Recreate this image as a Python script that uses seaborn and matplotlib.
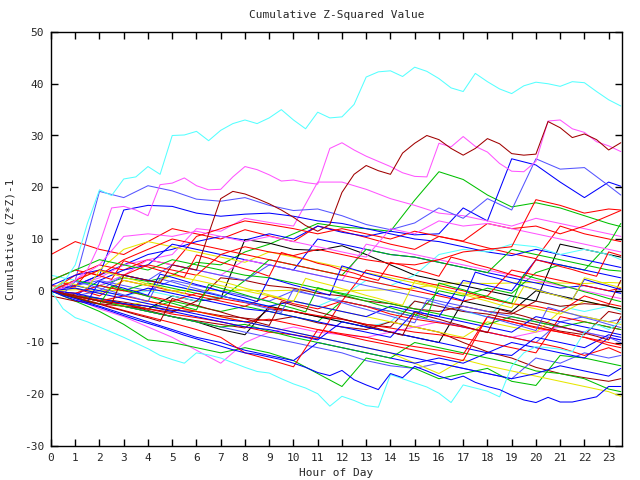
import matplotlib
matplotlib.use("Agg")
import matplotlib.pyplot as plt
import seaborn as sns

# ---------------- data ----------------
HOURS = [0, 1, 2, 3, 4, 5, 6, 7, 8, 9, 10, 11, 12, 13, 14, 15, 16, 17, 18, 19, 20, 21, 22, 23, 23.5]
HALF_HOURS = [0, 0.5, 1, 1.5, 2, 2.5, 3, 3.5, 4, 4.5, 5, 5.5, 6, 6.5, 7, 7.5,
              8, 8.5, 9, 9.5, 10, 10.5, 11, 11.5, 12, 12.5, 13, 13.5, 14, 14.5, 15, 15.5,
              16, 16.5, 17, 17.5, 18, 18.5, 19, 19.5, 20, 20.5, 21, 21.5, 22, 22.5, 23, 23.5]

# tangle series (hourly)
r1 = [7, 9.5, 8, 7, 9.5, 12, 11, 10, 11.8, 10.6, 9.5, 12.5, 11.5, 10.3, 9, 8, 10.5, 9.5, 8.3, 7.2, 6.2, 12.5, 11, 10, 9.5]
r2 = [0, 3, 5, 4, 6, 5, 10.5, 12, 13.5, 12.8, 12, 11, 12, 11, 10, 11.5, 10.5, 9.6, 13, 12, 12.5, 11, 12.5, 14.5, 15.5]
r3 = [1, 0.5, -1, 2, 1, 0, -1, -2, -3, -1, -2.5, -3.5, -2, 4, 3, 2, 1, 0, -1.5, -2.5, -3, -4, -1, -2.5, -3]
r4 = [0, -1, -1.8, -2.6, -3.5, -4.5, -5.2, -6, -7, -8, -8.5, -9.3, -2, -3, -4.5, -5.5, -6.2, -7, -8, -9, -10, -11, -12.5, -11, -12]
r5 = [0, -0.5, 1, 0, -1, -2, -0.5, -1.5, -2.3, -3.2, -4, -4.8, -5.5, -6.5, -7.2, -8, -8.5, -9.2, -10, -11, -12, -5, -6, -7, -7.5]
r6 = [2, 4, 3, 6, 8, 10, 9, 8, 7, 6, 5, 4, 3, 2, 1, 0, -1, -2, -1, 4, 3, 2, 1, 0, 0.5]
r7 = [0, -1, -2, -1, -2, -3, -4, -5, -6, -5.5, -6.5, -7.5, -8.3, -9, -10, -10.8, -11.5, -12.3, -5, -6, -7, -8, -9, -10.5, -11]
r8 = [0, -1.2, -2.5, -3.8, -5, -6.2, -7.5, -9, -12, -13.3, -14.7, -7.5, -8.5, -9.6, -10.5, -11.5, -12.5, -13.5, -5, -6, -7.2, -8, -9, -10, -10.5]
r9 = [0, 2, 4, 3, 5, 4, 3, 7, 8.5, 7.5, 6.8, 8, 7, 6, 5.3, 5, 6, 7.5, 8, 8.5, 17.6, 16.5, 15, 15.8, 15.6]
dr2 = [0, -0.8, -1.5, -2.2, -3, -3.8, -4, -4.8, -5.3, -5.8, -5, -6.2, -7, -7.5, -6, -7, -8, -10, -11.8, -13, -14.8, -16, -16.8, -17.5, -17]
dr3 = [0, -1, -2, -2.6, -3.8, -5, -5.8, -6.5, -7.2, -3.5, -4, -5, -5.5, -6.5, -7, -2, -3, -4, -4.5, -5.5, -6.5, -7.8, -8.5, -4, -4.5]
dr4 = [-1, -2, -2.5, -3, -3.5, -4.2, -2, 2.5, 2, 1, 0.5, -0.5, -1, -2, -2.5, -3.5, -4, -3, -4, -4.5, -2, -3, -2.5, -2.8, 2]
g1 = [0, -0.5, 1, 2.5, 1.8, 3, 5.5, 5, 7.5, 9, 11, 13, 12.3, 12, 11.5, 17.5, 23, 21.5, 18.5, 16.2, 17, 16, 14.5, 13, 12.4]
g2 = [0, -1, -1.5, -2.5, -3.5, -2, -3, -4, -3, -4, -5, -6, -2, -3, -4, -5, 0, -1, 0.5, -0.5, 3.5, 5, 4, 9, 13]
g3 = [0, -2, -4, -6.5, -9.5, -10, -11, -12, -11, -12, -13.5, -16, -18.5, -13, -14, -15, -17, -16, -15, -17.5, -18.3, -12.5, -13, -14, -14.5]
g4 = [0, 2, 1, 0, 1.5, 0.5, -0.5, -1.5, 2, 6, 5, 4, 3, 8, 7, 6.5, 5.5, 4.5, 3.5, 8, 7, 6, 5, 4, 3.8]
g5 = [0, -1, -2, -3, -4, -5, -6, -7, -6.5, -7.8, -9, -10, -11, -12, -13, -10, -11, -12, -13, -14, -15.5, -16, -17, -19, -19.5]
g6 = [2, 4, 6, 5, 4, 6, 5, 4, 3, 2.5, 1.5, 0.5, -0.5, -1.5, -2.5, -3.5, -4.5, -5.5, -6.5, -5, -6, -7, -6, -7, -7.5]
b1 = [0, 1, 3, 5, 7, 8, 9.5, 10.5, 9.8, 11, 10, 12.5, 11.3, 10.5, 11.5, 10.8, 11, 16, 13.5, 25.5, 24.3, 21, 18, 21, 20.2]
b2 = [0, 1, 3, 15.6, 16.5, 16.3, 15, 14.4, 14.8, 15, 14.4, 13.5, 13, 12, 11, 10, 9.5, 8.5, 7.5, 6.8, 8, 7, 6, 5, 4.5]
b3 = [0, -1, 2, 4, 5, 9, 8, 7, 6, 5, 4, 10, 9, 8, 7, 6.5, 5.5, 4.5, 3.5, 2.5, 1.5, 0.5, 1, 0, -0.5]
b4 = [0, -1.5, -3, -4.5, -6, -7.5, -9, -10, -11.5, -12.5, -13.5, -10, -11, -12, -13, -14, -13, -14, -12, -10, -11, -12, -13, -9, -9.5]
b5 = [0, -0.5, -1.5, -2.5, -3, -4, -5, -6, -7, -7.5, -8.5, -9.5, -6, -7, -8, -9, -10, -11, -12, -12.5, -9, -10, -11, -8.5, -9]
b6 = [0, 1, 0, -1, 0.5, -0.5, -1.5, -2.5, -3.5, -4, -5, -6, -7, -8, -9, -4, -5, -6, -7, -8, -5, -6, -7, -8, -8.5]
b7 = [1, 3, 4, 3, 2, 1, 0, -1, -2, -3, -2, -3, -4, -5, -3, -4, -5, 2, 1, 0, 6, 5, 4, 3, 2.5]
b8 = [0, 0.5, -0.5, -1.5, -2.5, -3.5, -4.5, -5.5, -6, -7, -8, -9, -10, -11, -12, -13, -14, -15, -16, -17, -16, -14.5, -15.5, -16.5, -15]
sb1 = [0, 2, 19.2, 18, 20.3, 19.3, 17.7, 17.3, 18, 16.5, 15.5, 15.8, 14.5, 12.8, 11.8, 13.1, 16, 14, 17.8, 15.6, 25.5, 23.5, 23.8, 20.3, 18.5]
sb2 = [0, -1, -2, -3, -4, -5, -6, -7, -8, -9, -10, -11, -12, -13.5, -14.5, -15, -14, -15, -16, -17, -13, -14, -12, -13, -12.5]
sb3 = [0, 1, 2, 1, 0, 2, 1, 0, -1, -2, 0, -1, -2, -3, -4, -5, -6, -7, -8, -9, -10, -6, -5, -6, -5.5]
sb4 = [0, -1, 0, 3, 2, 5, 4, 3, 2, 5, 4, 3, 2, 1, 0, -1, -2, -3, -4, -5, -6, -7, -8, -9, -10]
m2 = [0, 1, 2.5, 5, 6, 7, 12, 11.5, 14, 13.2, 12.5, 21, 21, 19.6, 17.8, 16.5, 15, 14.5, 13.5, 12.5, 14, 13, 12, 11, 10.5]
m3 = [0, -1.5, -3.5, -5, -7, -9, -11.5, -14, -10, -8, -7, -8, -8.5, -9, -8, -7, -6, -7, -8, -9, -8, -7, -8, -9, -9.5]
m4 = [0, -0.5, 1, 3, 6, 5, 4, 3, 6, 5, 4, 3, 2, 9, 8, 7, 6, 5, 4, 3, 2, 1, 0, -1, -1.5]
m5 = [0, 2, 5, 10.5, 11, 10.5, 11.5, 10.5, 9.5, 10.5, 9.5, 8.5, 7.5, 6.5, 12, 11, 13.5, 12.5, 13, 12, 11, 10, 9, 8, 7.5]
c2 = [3, 2, 1, 3, 2, 1, 0, -1, -2, -3, -4, -5, -6, -7, -6, -2, -3, -4, -5, -1, -2, -3, -4, -3, -4]
c3 = [0, 1, 0, -1, 0, -1, -2, -1, -2, -3, -2, -3, -1, 2, 1, 3, 7, 8, 7.5, 9, 8.5, 7, 8, 7, 6]
y1 = [0, 0.2, 0.1, 0, 0.1, 0, 0.1, 0, 0.1, 0, 0.1, 0.2, 0, 0.1, 0.2, 0.5, 1.3, 1.5, 1.4, 1.5, 1.6, 1.5, 1.4, 1.6, 1.5]
y2 = [0, 2, 4, 8, 9.5, 8.5, 7.5, 6.5, 5.5, 7.5, 6.5, 5.5, 4.5, 3.5, 2.5, 1.5, 0.5, -0.5, -1.5, -2.5, -3.5, -4.5, -2, -3, -3.5]
y3 = [0, -1, -2, -3, -2, -3, -4, -5, -6, -7, -8, -9, -10, -11, -12, -14, -16, -13.3, -14.5, -15.5, -16.5, -17.5, -18.5, -19.5, -20.4]
y4 = [0, 0.5, -0.5, 2, 1, 3, 2, 1, 0, -1, -2, -3, -4, -5, -6, -7, -8, -9, -6, -7, -8, -4, -5, -6, -6.5]
k1 = [0, -1, -2, -2.5, -3.5, -1, -2, -1.5, 9.9, 9.2, 8, 7.8, 8.7, 7, 5, 3, 2, 1, 0, -1, -2, 9, 8, 7, 6.5]
k2 = [0, -1, -2, -3, -4, -5, -6, -7.5, -8.5, -3, -4, -5, -6, -7, -8, -9, -10, -2, -3, -4, 0, -1, -2, -3, -3.5]

# tangle series (half-hourly)
ha = [0, 1.5, 0.8, 3.5, 2.9, 2.2, 5.8, 5.1, 4.6, 3.9, 3.3, 2.6, 6.9, 6.3, 5.5, 4.9,
      4.2, 3.6, 2.8, 7.4, 6.7, 6.1, 5.3, 4.8, 4, 3.4, 2.6, 2, 5.5, 4.9, 4.1, 3.5,
      2.8, 6.5, 5.9, 5.1, 4.5, 3.8, 3.1, 2.5, 6, 5.4, 4.7, 4.1, 3.4, 2.8, 7.5, 6.8]
hb = [0, -0.8, -1.4, -2.1, 1.8, 1.1, 0.5, -0.2, -0.9, 3.2, 2.6, 1.9, 1.2, 0.6, -0.1, -0.8,
      -1.4, -2.1, 2.5, 1.8, 1.1, 0.5, -0.2, -0.9, 4.8, 4.1, 3.4, 2.8, 2.1, 1.4, 0.8, 0.1,
      -0.6, -1.2, -1.9, 3.6, 2.9, 2.3, 1.6, 0.9, 0.3, -0.4, -1.1, -1.7, 2.2, 1.5, 0.9, 0.2]
hc = [0, -0.7, -1.3, -2, -2.6, 0.9, 0.2, -0.4, -1.1, -1.8, -2.4, -3.1, -3.7, 1.2, 0.5, -0.1,
      -0.8, -1.5, -2.1, -2.8, -3.4, -4.1, 0.6, -0.1, -0.7, -1.4, -2, -2.7, -3.3, -4, -4.6, -5.3,
      1.5, 0.8, 0.2, -0.5, -1.1, -1.8, -2.4, 3.1, 2.4, 1.8, 1.1, 0.5, -0.2, -0.8, -1.5, -2.1]
hd = [0, -0.6, 1.8, 1.2, 0.5, -0.1, -0.8, -1.4, -2.1, 2.3, 1.7, 1, 0.4, -0.3, -0.9, -1.6,
      -2.2, -2.9, -3.5, -4.2, 0.3, -0.4, -1, -1.7, -2.3, -3, -3.6, -4.3, -4.9, -5.6, -6.2, -1.8,
      -2.5, -3.1, -3.8, -4.4, -5.1, -5.7, -6.4, -7, -7.7, -3.2, -3.9, -4.5, -5.2, -5.8, -6.5, -7.1]
he = [0, -0.7, -1.3, -2, -2.6, -3.3, -3.9, -4.6, -5.2, -5.9, -1.5, -2.2, -2.8, -3.5, -4.1, -4.8,
      -5.4, -6.1, -6.7, -2.1, -2.8, -3.4, -4.1, -4.7, -5.4, -6, -6.7, -7.3, -8, -8.6, -4.2, -4.9,
      -5.5, -6.2, -6.8, -7.5, -8.1, -3.6, -4.3, -4.9, -5.6, -6.2, -6.9, -7.5, -8.2, -8.8, -9.5, -5]
hf = [0, 1.8, 1.2, 0.5, 3.9, 3.3, 2.6, 2, 1.3, 0.7, 0, -0.6, 3.1, 2.5, 1.8, 1.2,
      0.5, -0.1, -0.8, -1.4, -2.1, 2.4, 1.7, 1.1, 0.4, -0.2, -0.9, -1.5, -2.2, -2.8, 1.9, 1.2,
      0.6, -0.1, -0.7, -1.4, -2, -2.7, -3.3, 0.8, 0.2, -0.5, -1.1, -1.8, 2.5, 1.9, 1.2, 0.6]

# outlier series (half-hourly)
cyan_top = [0, 1.5, 5, 13, 19.5, 18.4, 21.6, 22,
            24, 22.5, 30, 30.1, 30.8, 29, 31, 32.3,
            33, 32.3, 33.4, 35, 33, 31.3, 34.5, 33.4,
            33.6, 36, 41.3, 42.3, 42.5, 41.4, 43.2, 42.4,
            41, 39.2, 38.5, 42, 40.4, 39, 38.1, 39.6,
            40.3, 40, 39.5, 40.4, 40.2, 38.5, 36.9, 35.7]
magenta_top = [0, 0.5, 2, 4, 9, 16, 16.3, 15.6,
               14.5, 20.5, 20.8, 21.8, 20.3, 19.5, 19.6, 22,
               24, 23.4, 22.4, 21.2, 21.4, 20.9, 20.6, 27.5,
               28.6, 27.2, 26, 25, 24, 22.8, 22.1, 22,
               28.5, 27.8, 29.8, 27.9, 26.8, 24.6, 23.1, 23,
               25, 32.8, 33, 31.3, 30.6, 28.8, 28, 26.9]
darkred_top = [0, -0.5, -1, -1.5, -2, -2.5, 3, 2.5,
               2, 1.5, 5, 4.5, 4, 11, 17.8, 19.2,
               18.7, 17.8, 16.8, 15.6, 14.2, 12.6, 11.5, 12.8,
               19, 22.5, 24.2, 23.2, 22.5, 26.6, 28.5, 30,
               29.2, 27.5, 26.2, 27.5, 29.4, 28.4, 26.5, 26.2,
               26.4, 32.7, 31.5, 29.6, 30.3, 29.2, 27.2, 28.6]
cyan_bottom = [0, -3.5, -5.2, -6, -7, -8, -9, -10.1,
               -11.2, -12.5, -13.3, -14, -12, -12.4, -13, -13.9,
               -14.8, -15.6, -15.9, -17, -18, -18.8, -19.9, -22.3,
               -20.4, -21.2, -22.2, -22.5, -16.2, -17, -17.8, -18.6,
               -19.8, -21.6, -18.2, -18.8, -19.4, -20.5, -14.6, -12,
               -10.8, -11, -11.3, -11.8, -8, -6.5, -7.5, -6]
blue_bottom = [0, -1, -1.8, -2.5, -3.2, -4, -4.8, -5.6,
               -6.3, -7, -7.8, -8.6, -9.3, -10, -10.7, -11.4,
               -12, -12.3, -12.8, -13.3, -14, -14.8, -15.8, -16.4,
               -15.4, -17.2, -18.2, -19.1, -16, -16.8, -14.6, -15.5,
               -16.5, -17.2, -16.5, -17.7, -18.5, -19.1, -20.2, -21.1,
               -21.6, -20.6, -21.5, -21.5, -21, -20.5, -18.5, -18.5]

Y_TICKS = [-30, -20, -10, 0, 10, 20, 30, 40, 50]
X_TICKS = list(range(24))

RED, GREEN, BLUE, MAGENTA = "#ff0000", "#00c000", "#0000ff", "#ff55ff"
CYAN, DARKRED, YELLOW, BLACK, SLATE = "#55ffff", "#a00000", "#e6e600", "#000000", "#5555ff"

hourly = [
    (r1, RED), (g1, GREEN), (b1, BLUE), (m2, MAGENTA), (c2, CYAN), (dr2, DARKRED), (y1, YELLOW), (k1, BLACK), (sb1, SLATE),
    (r2, RED), (g2, GREEN), (b2, BLUE), (m3, MAGENTA), (c3, CYAN), (dr3, DARKRED), (y2, YELLOW), (k2, BLACK), (sb2, SLATE),
    (r3, RED), (g3, GREEN), (b3, BLUE), (m4, MAGENTA), (dr4, DARKRED), (y3, YELLOW), (sb3, SLATE),
    (r4, RED), (g4, GREEN), (b4, BLUE), (m5, MAGENTA), (y4, YELLOW), (sb4, SLATE),
    (r5, RED), (g5, GREEN), (b5, BLUE), (r6, RED), (g6, GREEN), (b6, BLUE),
    (r7, RED), (b7, BLUE), (r8, RED), (b8, BLUE), (r9, RED),
]
half = [(ha, RED), (hb, BLUE), (hc, GREEN), (hd, SLATE), (he, DARKRED), (hf, YELLOW),
        (cyan_top, CYAN), (magenta_top, MAGENTA), (darkred_top, DARKRED),
        (cyan_bottom, CYAN), (blue_bottom, BLUE)]

# ---------------- plot ----------------
sns.set_style("white")
plt.rcParams["font.family"] = ["DejaVu Sans Mono"]
fig = plt.figure(figsize=(6.4, 4.8), dpi=100)
ax = fig.add_axes([51 / 640, 34 / 480, 571 / 640, 414 / 480])

for vals, col in hourly:
    sns.lineplot(x=HOURS, y=vals, color=col, linewidth=0.75, ax=ax, sort=False)
for vals, col in half:
    sns.lineplot(x=HALF_HOURS, y=vals, color=col, linewidth=0.75, ax=ax, sort=False)

ax.set_xlim(0, 23.55)
ax.set_ylim(-30, 50)
ax.set_xticks(X_TICKS)
ax.set_yticks(Y_TICKS)
ax.set_xticklabels([str(t) for t in X_TICKS], fontsize=8)
ax.set_yticklabels([str(t) for t in Y_TICKS], fontsize=8)
ax.tick_params(direction="in", length=5, width=1, top=True, right=True,
               bottom=True, left=True, color="black", pad=5)
for s in ax.spines.values():
    s.set_visible(True)
    s.set_color("black")
    s.set_linewidth(1)
ax.set_facecolor("white")
ax.grid(False)
ax.set_title("Cumulative Z-Squared Value", fontsize=8, pad=10)
ax.set_xlabel("Hour of Day", fontsize=8, labelpad=4)
ax.set_ylabel("Cumulative (Z*Z)-1", fontsize=8, labelpad=6)

fig.savefig("out.png", dpi=100, facecolor="white")
